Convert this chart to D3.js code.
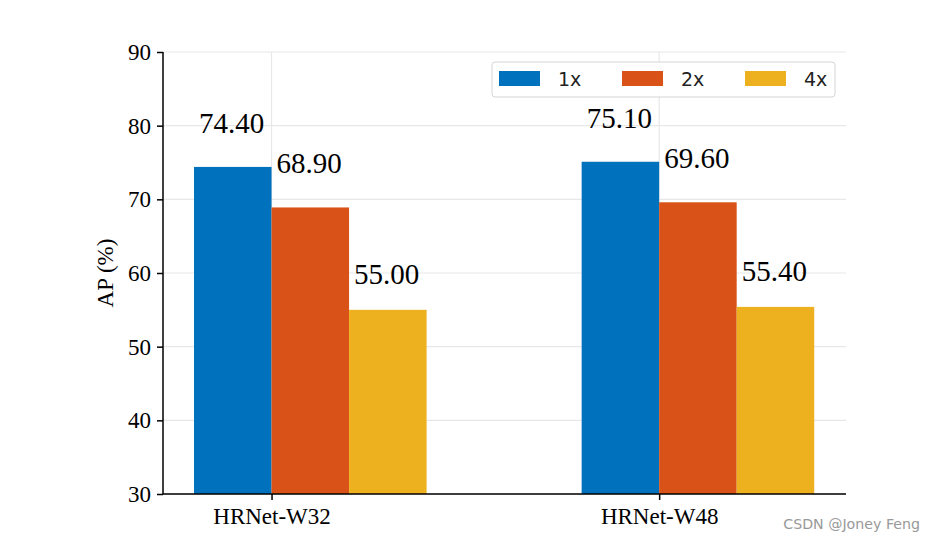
<!DOCTYPE html>
<html>
<head>
<meta charset="utf-8">
<script src="https://cdn.jsdelivr.net/npm/d3@7"></script>
<style>
  body { margin: 0; background: #fff; }
  .serif { font-family: "Liberation Serif", "Times New Roman", Times, serif; }
</style>
</head>
<body>
<div id="chart"></div>
<script>
// data
var categories = ["HRNet-W32", "HRNet-W48"];
var seriesNames = ["1x", "2x", "4x"];
var values1x = [74.40, 75.10];
var values2x = [68.90, 69.60];
var values4x = [55.00, 55.40];
var yTicks = [30, 40, 50, 60, 70, 80, 90];
var colors = ["#0072BD", "#D95319", "#EDB120"];

var svgWidth = 938;
var svgHeight = 542;

var margin = { top: 52, right: 92, bottom: 48, left: 163 };
var width = svgWidth - margin.left - margin.right;
var height = svgHeight - margin.top - margin.bottom;

var svg = d3.select("#chart")
  .append("svg")
  .attr("width", svgWidth)
  .attr("height", svgHeight);

var chartGroup = svg.append("g")
  .attr("transform", `translate(${margin.left}, ${margin.top})`);

// x: category index, bars at i-w, i, i+w (edge aligned)
var barW = 0.2;
var xScale = d3.scaleLinear()
  .domain([-0.28, 1.482])
  .range([0, width]);

var yScale = d3.scaleLinear()
  .domain([30, 90])
  .range([height, 0]);

// grid
chartGroup.append("g")
  .selectAll("line")
  .data(yTicks)
  .enter()
  .append("line")
  .attr("x1", 0)
  .attr("x2", width)
  .attr("y1", d => yScale(d))
  .attr("y2", d => yScale(d))
  .attr("stroke", "#e8e8e8")
  .attr("stroke-width", 1.2);

chartGroup.append("g")
  .selectAll("line")
  .data(categories)
  .enter()
  .append("line")
  .attr("x1", (d, i) => xScale(i))
  .attr("x2", (d, i) => xScale(i))
  .attr("y1", 0)
  .attr("y2", height)
  .attr("stroke", "#e8e8e8")
  .attr("stroke-width", 1.2);

// bars
var allSeries = [values1x, values2x, values4x];
allSeries.forEach(function(vals, s) {
  var g = chartGroup.append("g");
  g.selectAll("rect")
    .data(vals)
    .enter()
    .append("rect")
    .attr("x", (d, i) => xScale(i + (s - 1) * barW))
    .attr("y", d => yScale(d))
    .attr("width", xScale(barW) - xScale(0))
    .attr("height", d => height - yScale(d))
    .attr("fill", colors[s]);

  // value labels
  var off = s === 2 ? 3.55 : 4.65;
  g.selectAll("text")
    .data(vals)
    .enter()
    .append("text")
    .attr("class", "serif")
    .attr("x", (d, i) => xScale(i + (s - 1) * barW) + 5)
    .attr("y", d => yScale(d + off))
    .text(d => d.toFixed(2))
    .attr("font-size", "29px")
    .style("fill", "black");
});

// axes
var leftAxis = d3.axisLeft(yScale)
  .tickValues(yTicks)
  .tickSize(6)
  .tickPadding(6);

var bottomAxis = d3.axisBottom(xScale)
  .tickValues([0, 1])
  .tickFormat(i => categories[i])
  .tickSize(6)
  .tickPadding(8);

var yAxisG = chartGroup.append("g").call(leftAxis);
var xAxisG = chartGroup.append("g")
  .attr("transform", `translate(0, ${height})`)
  .call(bottomAxis);

[yAxisG, xAxisG].forEach(function(g) {
  g.attr("font-family", null);
  g.select(".domain").attr("stroke", "black").attr("stroke-width", 1.5)
    .attr("d", g === yAxisG ? `M0,0V${height}` : `M0,0H${width}`);
  g.selectAll(".tick line").attr("stroke", "black").attr("stroke-width", 1.5);
  g.selectAll(".tick text")
    .attr("class", "serif")
    .attr("font-size", "23px")
    .style("fill", "black");
});

// y axis label
chartGroup.append("text")
  .attr("class", "serif")
  .attr("transform", "rotate(-90)")
  .attr("x", 0 - (height / 2))
  .attr("y", 0 - margin.left + 113)
  .attr("text-anchor", "middle")
  .text("AP (%)")
  .attr("font-size", "23px")
  .style("fill", "black");

// legend
var legend = svg.append("g")
  .attr("transform", "translate(492, 62)");

legend.append("rect")
  .attr("width", 343)
  .attr("height", 35)
  .attr("rx", 3)
  .attr("fill", "white")
  .attr("fill-opacity", 0.85)
  .attr("stroke", "#d4d4d4")
  .attr("stroke-width", 1);

var legendItems = legend.selectAll("g.item")
  .data(seriesNames)
  .enter()
  .append("g")
  .attr("class", "item")
  .attr("transform", (d, i) => `translate(${7 + i * 123}, 0)`);

legendItems.append("rect")
  .attr("y", 9)
  .attr("width", 41)
  .attr("height", 15)
  .attr("fill", (d, i) => colors[i]);

legendItems.append("text")
  .attr("x", 59)
  .attr("y", 24)
  .text(d => d)
  .attr("font-family", "DejaVu Sans, sans-serif")
  .attr("font-size", "19px")
  .style("fill", "#222");

// watermark
svg.append("text")
  .attr("x", 920)
  .attr("y", 529)
  .attr("text-anchor", "end")
  .text("CSDN @Joney Feng")
  .attr("font-family", "DejaVu Sans, sans-serif")
  .attr("font-size", "14.2px")
  .style("fill", "#999");
</script>
</body>
</html>
